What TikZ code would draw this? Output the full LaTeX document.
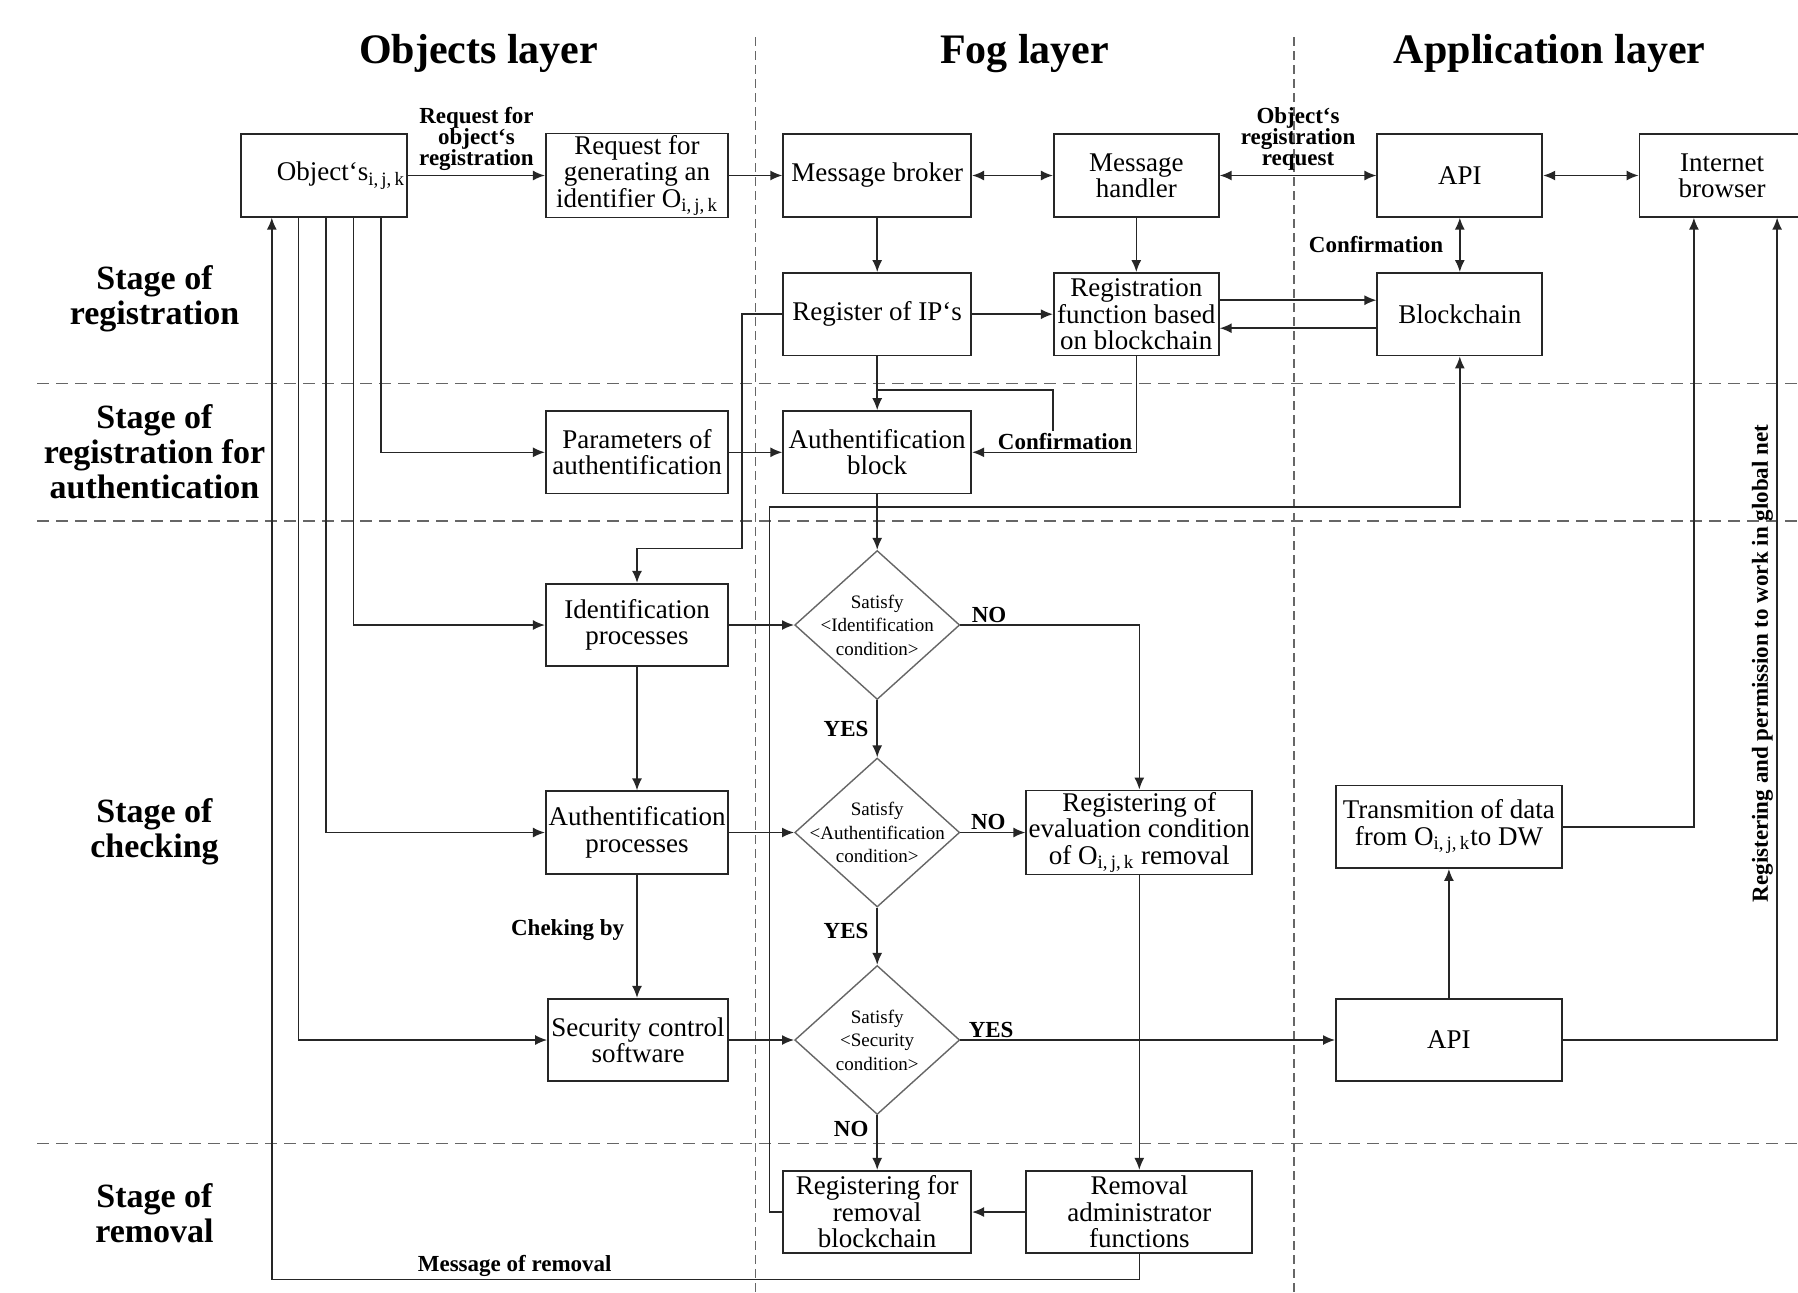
\documentclass[tikz,border=0pt]{standalone}
\usepackage{fontspec}
\setmainfont{Liberation Serif}
\usetikzlibrary{arrows.meta,shapes.geometric,calc}
\newcommand{\ijk}{\textsubscript{i,\,j,\,k}}

\begin{document}
\begin{tikzpicture}[x=0.5pt, y=-0.5pt,
  box/.style={draw=black!85, line width=0.9pt, align=center, inner sep=1pt, minimum height=41.25pt, minimum width=82.5pt, font=\fontsize{13.5}{13.2}\selectfont},
  cond/.style={diamond, draw=black!60, line width=0.7pt, inner sep=0pt, minimum width=82.5pt, minimum height=74.5pt},
  condtext/.style={align=center, inner sep=0pt, font=\fontsize{9.5}{11.7}\selectfont},
  arrow/.style={-{Latex[length=6pt,width=5pt]}, line width=0.75pt, draw=black!85},
  dblarrow/.style={{Latex[length=6pt,width=5pt]}-{Latex[length=6pt,width=5pt]}, line width=0.75pt, draw=black!85},
  link/.style={line width=0.75pt, draw=black!85},
  lbl/.style={font=\bfseries\fontsize{11.5}{10.6}\selectfont, align=center, inner sep=1pt},
  stage/.style={font=\bfseries\fontsize{17}{17.5}\selectfont, align=center},
  layerhead/.style={font=\bfseries\fontsize{21}{24}\selectfont, anchor=base},
  divider/.style={draw=black!60, line width=0.8pt, dash pattern=on 6pt off 3.5pt},
  coldivider/.style={draw=black!60, line width=0.6pt, dash pattern=on 4.5pt off 2.5pt}]
\clip (0,0) rectangle (1798,1292);
\fill[white] (0,0) rectangle (1798,1292);
% layers and stages
\draw[coldivider] (755.4,37) -- (755.4,1292);
\draw[coldivider] (1294,37) -- (1294,1292);
\draw[divider] (37,383.3) -- (1798,383.3);
\draw[divider] (37,521) -- (1798,521);
\draw[divider] (37,1143.3) -- (1798,1143.3);
\node[layerhead] (hobj) at (478.7,63.3) {Objects layer};
\node[layerhead] (hfog) at (1024.6,63.3) {Fog layer};
\node[layerhead] (happ) at (1549.7,63.3) {Application layer};
\node[stage] (stg1) at (154.5,299) {Stage of\\registration};
\node[stage] (stg2) at (154.5,452) {Stage of\\registration for\\authentication};
\node[stage] (stg3) at (154.5,832) {Stage of\\checking};
\node[stage] (stg4) at (154.5,1213) {Stage of\\removal};
% boxes
\node[box, minimum width=83.15pt, text width=81pt, align=right] (obj) at (324,175.5) {Object‘s\ijk};
\node[box, minimum width=91.2pt] (req) at (637,175.5) {Request for\\generating an\\identifier O\ijk};
\node[box, minimum width=94pt] (broker) at (877.2,175.5) {Message broker};
\node[box] (handler) at (1136.3,175.5) {Message\\handler};
\node[box] (api1) at (1459.8,175.5) {API};
\node[box] (browser) at (1722,175.5) {Internet\\browser};
\node[box, minimum width=94pt] (regip) at (877.2,314.2) {Register of IP‘s};
\node[box] (regfun) at (1136.3,314.2) {Registration\\function based\\on blockchain};
\node[box] (chain) at (1459.8,314.2) {Blockchain};
\node[box, minimum width=91.2pt] (param) at (637,452.3) {Parameters of\\authentification};
\node[box, minimum width=94pt] (authblk) at (877.2,452.3) {Authentification\\block};
\node[box, minimum width=91.2pt] (ident) at (637,625) {Identification\\processes};
\node[box, minimum width=91.2pt] (authproc) at (637,832.5) {Authentification\\processes};
\node[box, minimum width=90pt] (sec) at (638,1040) {Security control\\software};
\node[box, minimum width=113pt] (evalc) at (1139.3,832.5) {Registering of\\evaluation condition\\of O\ijk{} removal};
\node[box, minimum width=113pt] (trans) at (1448.9,826.8) {Transmition of data\\from O\ijk to DW};
\node[box, minimum width=113pt] (api2) at (1448.9,1040) {API};
\node[box, minimum width=94pt] (regrem) at (877.2,1212) {Registering for\\removal\\blockchain};
\node[box, minimum width=113pt] (remadm) at (1139.3,1212) {Removal\\administrator\\functions};
% conditions
\node[cond] (d1) at (877.2,625) {};
\node[condtext] (d1t) at (d1) {Satisfy\\<Identification\\condition>};
\node[cond] (d2) at (877.2,832.5) {};
\node[condtext] (d2t) at (d2) {Satisfy\\<Authentification\\condition>};
\node[cond] (d3) at (877.2,1040) {};
\node[condtext] (d3t) at (d3) {Satisfy\\<Security\\condition>};
% registration
\draw[arrow] (obj) -- node[lbl, above=1pt] {Request for\\object‘s\\registration} (req);
\draw[arrow] (req) -- (broker);
\draw[dblarrow] (broker) -- (handler);
\draw[dblarrow] (handler) -- node[lbl, above=1pt] {Object‘s\\registration\\request} (api1);
\draw[dblarrow] (api1) -- (browser);
\draw[dblarrow] (api1) -- node[lbl, left=7pt] {Confirmation} (chain);
\draw[arrow] (broker) -- (regip);
\draw[arrow] (handler) -- (regfun);
\draw[arrow] (regip) -- (regfun);
\draw[arrow] ([yshift=7pt]regfun.east) -- ([yshift=7pt]chain.west);
\draw[arrow] ([yshift=-7pt]chain.west) -- ([yshift=-7pt]regfun.east);
% authentication
\node[lbl] (conf) at (1065,441.5) {Confirmation};
\coordinate (cj) at (877.2,390);
\draw[arrow] (regip) -- (authblk);
\draw[link] (conf.north -| regfun.west) |- (cj);
\draw[arrow] (regfun.south) |- (authblk.east);
\draw[arrow] (param) -- (authblk);
\draw[arrow] ([xshift=70.5pt]obj.south west) |- (param.west);
% checking
\draw[arrow] ([xshift=56.75pt]obj.south west) |- (ident.west);
\draw[arrow] ([xshift=43pt]obj.south west) |- (authproc.west);
\draw[arrow] ([xshift=29.25pt]obj.south west) |- (sec.west);
\draw[arrow] (regip.west) -| (742.2,548.3) -| (ident.north);
\draw[arrow] (authblk.south) -- (d1.north);
\draw[arrow] (ident) -- (d1);
\draw[arrow] (authproc) -- (d2);
\draw[arrow] (sec) -- (d3);
\draw[arrow] (ident) -- (authproc);
\draw[arrow] (authproc) -- node[lbl, left=5pt, pos=0.45] {Cheking by} (authproc |- sec.north);
\draw[arrow] (d1) -- node[lbl, left=3pt] {YES} (d2);
\draw[arrow] (d2) -- node[lbl, left=3pt, pos=0.4] {YES} (d3);
\draw[arrow] (d1.east) -| node[lbl, above, pos=0.08] {NO} (evalc.north);
\draw[arrow] (d2) -- node[lbl, above, pos=0.43] {NO} (evalc);
\draw[arrow] (d3) -- node[lbl, above, pos=0.082] {YES} (api2);
\draw[arrow] (api2) -- (trans);
\draw[arrow] (trans.east) -| ([xshift=27.65pt]browser.south west);
\draw[arrow] (api2.east) -| ([xshift=69.25pt]browser.south west);
\node[lbl, rotate=90] (glob) at (1762.5,663.5) {Registering and permission to work in global net};
% removal
\draw[arrow] (d3) -- node[lbl, left=3pt, pos=0.25] {NO} (regrem);
\draw[arrow] (evalc) -- (remadm);
\draw[arrow] (remadm) -- (regrem);
\draw[arrow] (regrem.west) -| (769.5,507) -| (chain.south);
\coordinate (mr) at (271.8,1279.7);
\draw[arrow] (remadm.south) |- node[lbl, above, pos=0.86] {Message of removal} (mr) -- (mr |- obj.south);
\end{tikzpicture}
\end{document}
